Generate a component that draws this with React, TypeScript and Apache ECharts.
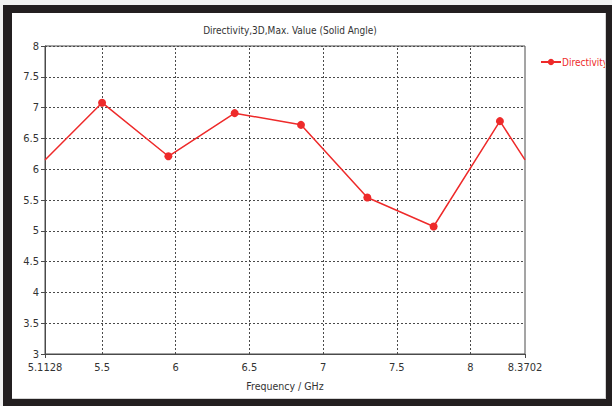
import React, { useEffect, useRef } from "react";
import * as echarts from "echarts";

const freqs = [5.1128, 5.5, 5.95, 6.4, 6.85, 7.3, 7.75, 8.2, 8.3702];
const directivity = [6.15, 7.08, 6.21, 6.91, 6.72, 5.54, 5.07, 6.78, 6.15];
const edgeIndices = [0, 8];
const xLabelValues = [5.1128, 5.5, 6, 6.5, 7, 7.5, 8, 8.3702];
const xGridValues = [5.5, 6, 6.5, 7, 7.5, 8];
const xTickValues = [5.1128, 8.3702];

const FONT = "'DejaVu Sans Condensed', 'Liberation Sans', sans-serif";
const RED = "#ee2a2a";
const GRID_COLOR = "#4a4a4a";
const FRAME = "#231f20";

export default function App() {
  const ref = useRef<HTMLDivElement>(null);
  useEffect(() => {
    if (!ref.current) return;
    const chart = echarts.init(ref.current, null, { renderer: "svg" });
    const data = freqs.map((f, i) =>
      edgeIndices.includes(i)
        ? { value: [f, directivity[i]], symbol: "none" }
        : { value: [f, directivity[i]] }
    );
    chart.setOption({
      animation: false,
      backgroundColor: "#f2f2f2",
      textStyle: { fontFamily: FONT },
      title: {
        text: "Directivity,3D,Max. Value (Solid Angle)",
        left: 285,
        textAlign: "center",
        top: 20,
        textStyle: { fontFamily: FONT, fontSize: 10, fontWeight: "normal", color: "#333" },
      },
      legend: {
        left: 535,
        top: 52,
        itemWidth: 20,
        itemHeight: 8,
        itemGap: 4,
        textStyle: { fontFamily: FONT, fontSize: 10, color: RED, padding: [0, 0, 0, -4] },
        data: ["Directivity"],
      },
      grid: {
        left: 45,
        top: 46,
        width: 480,
        height: 308,
        show: true,
        borderColor: GRID_COLOR,
        borderWidth: 1,
        backgroundColor: "transparent",
      },
      xAxis: {
        type: "value",
        min: 5.1128,
        max: 8.3702,
        name: "Frequency / GHz",
        nameLocation: "middle",
        nameGap: 26,
        nameTextStyle: { fontFamily: FONT, fontSize: 10.5, color: "#333" },
        axisLine: { show: true, lineStyle: { color: GRID_COLOR, width: 1 } },
        axisTick: { show: true, length: 4, customValues: xTickValues, lineStyle: { color: GRID_COLOR } },
        axisLabel: {
          customValues: xLabelValues,
          margin: 8,
          fontFamily: FONT,
          fontSize: 11,
          color: "#333",
          formatter: (v: number) => String(v),
        },
        splitLine: { show: false },
      },
      yAxis: {
        type: "value",
        min: 3,
        max: 8,
        interval: 0.5,
        axisLine: { show: true, lineStyle: { color: GRID_COLOR, width: 1 } },
        axisTick: { show: true, length: 4, lineStyle: { color: GRID_COLOR } },
        axisLabel: { margin: 6, fontFamily: FONT, fontSize: 11, color: "#333" },
        splitLine: { show: true, lineStyle: { color: GRID_COLOR, type: [2, 2], width: 1 } },
      },
      series: [
        {
          name: "Directivity",
          type: "line",
          data,
          symbol: "circle",
          symbolSize: 8,
          itemStyle: { color: RED },
          lineStyle: { color: RED, width: 1.5 },
          markLine: {
            silent: true,
            symbol: ["none", "none"],
            label: { show: false },
            lineStyle: { color: GRID_COLOR, type: [2, 2], width: 1 },
            data: xGridValues.map((v) => ({ xAxis: v })),
            z: 0,
          },
        },
      ],
      graphic: [
        { type: "rect", z: -10, shape: { x: 3, y: 5, width: 609, height: 401 }, style: { fill: "#fff" } },
        { type: "rect", z: 100, shape: { x: 3, y: 5, width: 609, height: 8 }, style: { fill: FRAME } },
        { type: "rect", z: 100, shape: { x: 3, y: 5, width: 9, height: 401 }, style: { fill: FRAME } },
        { type: "rect", z: 100, shape: { x: 606, y: 5, width: 6, height: 401 }, style: { fill: FRAME } },
        { type: "rect", z: 100, shape: { x: 3, y: 399, width: 609, height: 7 }, style: { fill: FRAME } },
        { type: "line", z: 100, shape: { x1: 605.5, y1: 13, x2: 605.5, y2: 399 }, style: { stroke: "#d4d4d4", lineWidth: 1 } },
        { type: "line", z: 100, shape: { x1: 12, y1: 398.5, x2: 606, y2: 398.5 }, style: { stroke: "#d4d4d4", lineWidth: 1 } },
      ],
    });
    return () => chart.dispose();
  }, []);
  return (
    <div
      ref={ref}
      style={{ position: "absolute", left: 0, top: 0, width: 612, height: 406 }}
    />
  );
}
